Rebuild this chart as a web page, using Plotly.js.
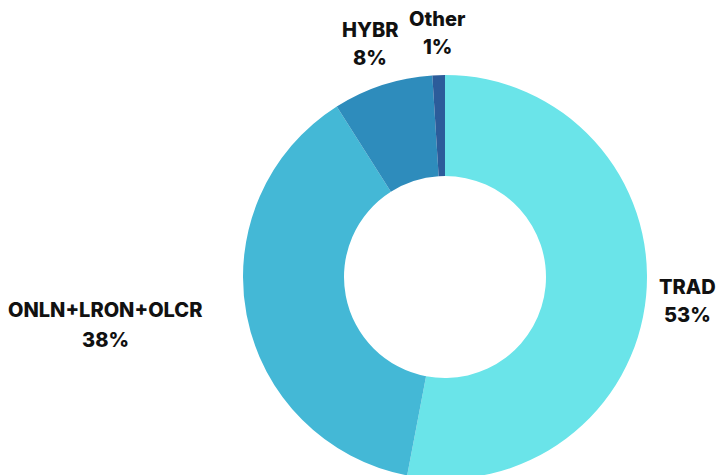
<!DOCTYPE html>
<html>
<head>
<meta charset="utf-8">
<script src="https://cdn.plot.ly/plotly-3.0.1.min.js"></script>
<style>
html,body{margin:0;padding:0;overflow:hidden;background:#fff;}
#chart{width:717px;height:480px;}
</style>
</head>
<body>
<div id="chart"></div>
<script>
const categories = ["TRAD", "ONLN+LRON+OLCR", "HYBR", "Other"];
const shares = [53, 38, 8, 1];
const colors = ["#6AE4E9", "#44B8D6", "#2E8CBC", "#2C5C9A"];

const W = 717, H = 480;
// label centre positions in pixels (name line, percent line)
const labelPos = [
  {x: 687, y1: 287, y2: 315},
  {x: 105, y1: 310, y2: 340},
  {x: 370, y1: 30, y2: 58},
  {x: 437, y1: 19, y2: 47}
];
const font = {family: "Inter, 'Open Sans', sans-serif", size: 20, color: "#111111", weight: 800};
const annotations = [];
categories.forEach((c, i) => {
  const p = labelPos[i];
  annotations.push({xref: "paper", yref: "paper", x: p.x / W, y: 1 - p.y1 / H,
    xanchor: "center", yanchor: "middle", showarrow: false, text: c, font: font});
  annotations.push({xref: "paper", yref: "paper", x: p.x / W, y: 1 - p.y2 / H,
    xanchor: "center", yanchor: "middle", showarrow: false, text: shares[i] + "%", font: font});
});

const cx = 445, cy = 277, R = 202;
const trace = {
  type: "pie",
  labels: categories,
  values: shares,
  hole: 0.5,
  sort: false,
  direction: "clockwise",
  rotation: 0,
  textinfo: "none",
  hoverinfo: "label+percent",
  marker: {colors: colors, line: {width: 0}},
  domain: {x: [(cx - R) / W, (cx + R) / W], y: [1 - (cy + R) / H, 1 - (cy - R) / H]},
  showlegend: false
};

Plotly.newPlot("chart", [trace], {
  width: W, height: H,
  margin: {l: 0, r: 0, t: 0, b: 0},
  paper_bgcolor: "#ffffff",
  annotations: annotations,
  showlegend: false
}, {displayModeBar: false, staticPlot: true});
</script>
</body>
</html>
